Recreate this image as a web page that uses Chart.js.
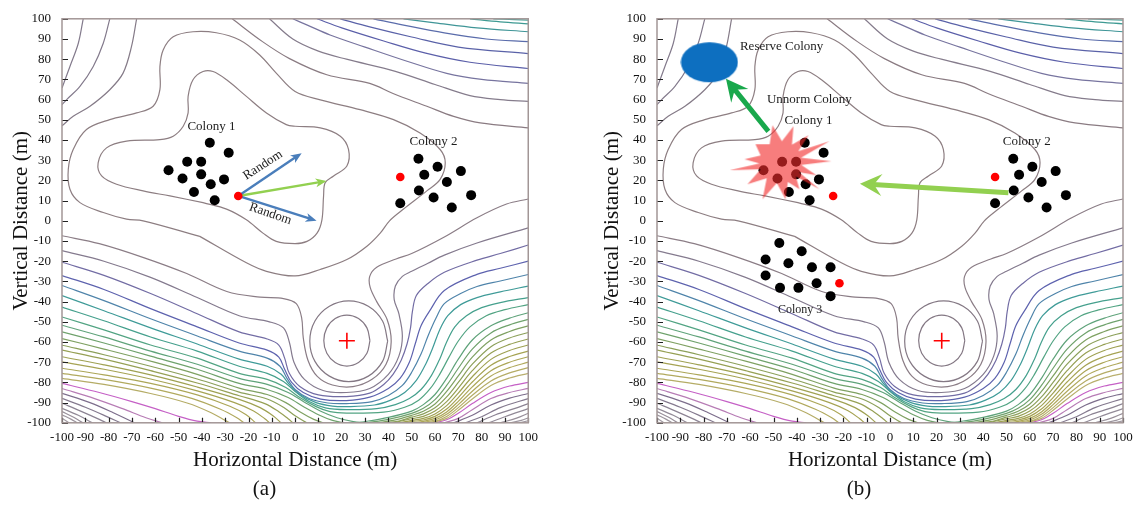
<!DOCTYPE html>
<html>
<head>
<meta charset="utf-8">
<script src="https://cdn.jsdelivr.net/npm/chart.js@4.4.1/dist/chart.umd.min.js"></script>
<style>
  body { margin: 0; background: #fff; width: 1140px; height: 505px; overflow: hidden; position: relative; }
  canvas { position: absolute; top: 0; }
  #chartA { left: 0; }
  #chartB { left: 595px; }
</style>
</head>
<body>
<canvas id="chartA" width="545" height="505"></canvas>
<canvas id="chartB" width="545" height="505"></canvas>
<script>
// ---- values (metres) ----
const tickValues = [-100, -90, -80, -70, -60, -50, -40, -30, -20, -10, 0, 10, 20, 30, 40, 50, 60, 70, 80, 90, 100];

const colony1 = [[-36.6, 38.6], [-28.5, 33.7], [-46.3, 29.2], [-40.3, 29.2], [-54.3, 25], [-40.3, 23], [-48.3, 20.9], [-36.2, 18.1], [-30.5, 20.5], [-43.4, 14.3], [-34.5, 10.2]];
const colony1Best = [[-24.4, 12.3]];
const colony2 = [[52.9, 30.7], [61.1, 26.8], [71.1, 24.6], [55.4, 22.8], [65.1, 19.2], [53.1, 15], [59.4, 11.5], [75.5, 12.7], [45.1, 8.7], [67.2, 6.6]];
const colony2Best = [[45.1, 21.7]];
const colony3 = [[-47.5, -11], [-37.9, -15.1], [-53.4, -19.2], [-43.6, -21], [-33.5, -23], [-25.5, -23], [-53.4, -27.1], [-31.5, -30.9], [-47.2, -33.2], [-39.3, -33.2], [-25.5, -37.3]];
const colony3Best = [[-21.7, -30.9]];
const basinCentre = [[22.2, -59.4]];
const reserveColony = [[-77.5, 78.5]];
const unnormColony = [[-47, 29]];

const randomUp = [[-24.4, 12.3], [2.8, 33.5]];
const randomDown = [[-24.4, 12.3], [9.2, 0]];
const guidedMove = [[-24.4, 12.3], [13.5, 19.7]];
const toReserve = [[-52.2, 44.3], [-70.4, 70.3]];
const colony2Move = [[50.8, 13.9], [-12.9, 18.4]];

// contour lines
const crossRings = [
  [[32.1, -59.3], [30.8, -53], [27.2, -48.4], [22.2, -46.7], [17.2, -48.4], [13.6, -53], [12.3, -59.3], [13.6, -65.6], [17.2, -70.2], [22.2, -71.9], [27.2, -70.2], [30.8, -65.6], [32.1, -59.3]],
  [[39.7, -59.6], [37.5, -49.6], [31.4, -42.3], [23, -39.6], [14.7, -42.3], [8.5, -49.6], [6.3, -59.6], [8.5, -69.6], [14.7, -76.9], [23, -79.6], [31.4, -76.9], [37.5, -69.6], [39.7, -59.6]]
];
const basinLoops = [
  [[-39.5, 9], [-29.4, 5.8], [-20.9, 0.5], [-13.8, -6.1], [-8.1, -10.2], [0, -11.3], [5.1, -10.2], [9.4, -6.1], [11.5, 0.5], [12.2, 12.3], [12.9, 18.9], [16.5, 22.2], [22.2, 27.1], [22.9, 35.3], [19.4, 41.9], [10.8, 46], [0, 46.8], [-3.8, 47.6], [-12.3, 53.4], [-20.9, 61.6], [-29.4, 69.8], [-35.2, 73.9], [-39.5, 73.9], [-43.8, 69.8], [-45.9, 61.6], [-45.9, 53.4], [-48, 46.8], [-52.3, 41.9], [-58, 40.2], [-72.3, 39.4], [-80.9, 36.1], [-84.5, 28.7], [-83, 22.2], [-76.6, 18.1], [-65.2, 14.8], [-53.7, 12.3], [-39.5, 9]],
  [[-40.9, -7.7], [-20.9, -20.8], [-12.3, -25], [0, -27.3], [10.8, -24.1], [22.2, -19.2], [30.8, -12.6], [36.5, -6.1], [40.5, 0], [46.5, 5.8], [56.5, 14.8], [62.2, 20.5], [64.4, 28.7], [62.2, 35.3], [53.6, 43.5], [42.2, 50.1], [27.9, 55], [10.8, 59.9], [0, 64], [-8.1, 73.1], [-15.2, 82.1], [-23.8, 89.5], [-33.8, 93.1], [-43.8, 93.6], [-52.3, 91.1], [-56.6, 84.6], [-58, 76.4], [-58, 64.9], [-60.9, 56.7], [-68, 53.4], [-79.5, 50.1], [-89.5, 45.2], [-95.2, 35.3], [-97.3, 25.5], [-96.6, 15.6], [-92.3, 9], [-82.3, 4.1], [-72.3, 0.8], [-65.2, 0], [-40.9, -7.7]]
];
const topLeftLines = [
  [[-90.9, 100], [-93, 87.9], [-96.6, 76.4], [-100, 65.7]],
  [[-79.5, 100], [-82.3, 87.9], [-86.6, 76.4], [-92.3, 66.5], [-98, 60], [-100, 57.5]],
  [[-68, 100], [-70.2, 86.2], [-73.8, 73.1], [-79.5, 64.9], [-88, 56.7], [-95.2, 51.7], [-100, 47]]
];
const topRightLines = [
  [[-27, 100], [-14, 88.7], [-2.4, 80.3], [13.6, 72.3], [32, 68], [42, 63], [56.5, 56.7], [68, 51.7], [79.4, 48.5], [100, 46]],
  [[-11, 100], [-1, 90], [10, 84], [22, 80], [43, 74], [60, 67.5], [75, 62], [88, 60], [100, 59.1]],
  [[-1, 100], [5, 97], [15, 92], [30, 86], [48, 79], [65, 73], [80, 70], [100, 68]],
  [[9.4, 100], [20, 95.5], [38, 89], [56, 83], [75, 78.5], [100, 75.4]],
  [[19.4, 100], [32, 96], [50, 91], [70, 86], [100, 82.8]],
  [[33.6, 100], [46, 97], [64, 93], [82, 90], [100, 88.7]],
  [[46.5, 100], [60, 98], [78, 95.5], [100, 93.6]],
  [[75, 100], [88, 98.5], [100, 97.5]],
  [[85, 100], [94, 99.6], [100, 99.3]]
];
const valleyLines = [
  [[-100, -7.4], [-84, -11.3], [-65, -18.2], [-46.5, -26.1], [-29.3, -35], [-15, -37.8], [-5, -38.5], [0.5, -41], [2.8, -48], [3.5, -58], [5.5, -69], [9.5, -77], [16, -81.3], [24.8, -82.1], [33, -78.5], [39, -71], [41.2, -60], [39.5, -49], [35, -40], [32.2, -33], [32, -27.5], [35, -23], [43.3, -18.9], [50, -16.2], [64, -8], [78, 1.5], [90.7, 8.3], [100, 10.8]],
  [[-100, -14.8], [-82, -20], [-62, -28], [-42, -38], [-24, -47], [-11, -50], [-5, -53], [-2.5, -60], [-0.5, -70], [4, -78.5], [12, -84], [22, -85], [32, -83], [40, -76], [44.5, -67], [46, -57], [44.5, -46], [42.5, -39], [43, -32.3], [46, -27.5], [50, -25], [57, -21], [64, -17], [78, -11], [100, -3.5]],
  [[-100, -20.5], [-82, -27], [-62, -36], [-42, -46], [-24, -55], [-12, -58.5], [-7, -61.5], [-4.5, -68], [-2.5, -75.5], [2, -82], [10, -86.2], [22, -87], [32, -85.3], [38, -81], [42, -76], [45.5, -69], [48, -61], [49.5, -53], [50.3, -45], [52, -37], [57, -31], [64, -25.5], [78, -19.5], [88, -16.2], [100, -12]],
  [[-100, -27.1], [-82, -34], [-62, -43.5], [-42, -52.5], [-24, -60.5], [-12, -64], [-7, -67.5], [-4.5, -73.5], [-1.5, -80], [3.5, -85], [11, -88.3], [22, -89], [32, -87.3], [40, -83], [45, -78], [49, -70], [51.5, -61], [54, -52], [57.5, -45], [64, -34.5], [78, -26.5], [88, -23.5], [100, -20]],
  [[-100, -32], [-82, -39.5], [-62, -48.5], [-42, -57], [-24, -64.5], [-12, -68], [-6.5, -72], [-3.5, -78], [0, -83.5], [6, -88], [14, -90.2], [22, -90.5], [33, -89.5], [40, -86.5], [46, -81.5], [50, -75], [54, -66], [57, -57], [60.5, -48], [64, -41], [71, -36], [78, -32.5], [88, -29.8], [100, -26.6]],
  [[-100, -37], [-82, -44.5], [-62, -53], [-42, -61], [-24, -68.5], [-12, -72], [-6, -76], [-2.5, -81], [2, -86], [9, -90], [16, -91.7], [22, -92], [34, -91.2], [41, -88.8], [47, -85], [52, -79], [56, -71], [59, -63], [62, -54], [65.5, -47], [71, -41.5], [78, -38], [88, -35.2], [100, -32.3]],
  [[-100, -42.7], [-82, -49.5], [-62, -57.5], [-42, -64.5], [-24, -72], [-12, -75.5], [-5, -79.5], [0, -84.5], [6, -89.5], [13, -92.6], [22, -93.5], [35, -93], [43, -91], [49, -88], [54, -83.5], [58.5, -76.5], [62, -68.5], [65, -60], [68.5, -52.5], [73.5, -47], [80, -43], [88, -40.5], [100, -38]],
  [[-100, -47.6], [-82, -54], [-62, -61.5], [-42, -68], [-24, -75.5], [-12, -78.5], [-4, -82.5], [2, -87.5], [9, -92], [15, -94.5], [22, -95.2], [38, -94.7], [47, -92.3], [53, -88.8], [58, -83], [62, -76], [66, -67.5], [70, -59.5], [75, -52.5], [82, -47], [90, -44], [100, -41.5]]
];
const leftFloorLines = [
  [[-100, -51.7], [-82, -57.5], [-62, -64.5], [-42, -71], [-24, -78], [-12, -81], [-3, -85], [4, -89.8], [11, -94.3], [18, -97.5], [25, -99.4], [30, -100]],
  [[-100, -55], [-82, -60.5], [-62, -67], [-42, -73.5], [-24, -80.5], [-12, -83.5], [-3, -87.5], [4, -92.3], [10, -96], [16, -98.8], [21, -100]],
  [[-100, -58.3], [-82, -63.5], [-62, -69.5], [-42, -76], [-24, -82.8], [-12, -86], [-4, -90], [2, -94.5], [8, -98.3], [12, -100]],
  [[-100, -61.6], [-82, -66.3], [-62, -72], [-42, -78.3], [-24, -84.8], [-12, -88.2], [-5, -92.3], [0, -96.5], [5, -100]],
  [[-100, -64], [-82, -68.5], [-62, -74.2], [-42, -80.3], [-24, -86.6], [-13, -90.5], [-7, -94.5], [-3, -98], [-1, -100]],
  [[-100, -67.3], [-82, -71.3], [-62, -76.3], [-42, -82.3], [-24, -88.4], [-15, -92.5], [-9.5, -96.5], [-6, -100]],
  [[-100, -69.8], [-82, -73.5], [-62, -78.3], [-42, -84.2], [-26, -90], [-18, -94], [-13, -98], [-11, -100]],
  [[-100, -73], [-82, -76.3], [-62, -80.5], [-42, -86.2], [-28, -91.8], [-21, -96], [-17, -100]],
  [[-100, -75.5], [-82, -78.5], [-62, -82.8], [-44, -88], [-32, -93.3], [-25, -97.5], [-22, -100]],
  [[-100, -78], [-82, -81], [-62, -85.5], [-46, -90.3], [-36, -95], [-30, -98.8], [-28, -100]],
  [[-100, -80.5], [-84, -85], [-70, -89.5], [-60, -93], [-50, -96.8], [-42, -99.2], [-36, -100]],
  [[-100, -83], [-86, -88], [-74, -93], [-64, -97.5], [-57, -100]],
  [[-100, -85.4], [-88, -90], [-78, -95], [-69, -100]],
  [[-100, -87.9], [-90, -92.3], [-81, -96.8], [-75, -100]],
  [[-100, -90.3], [-92, -94.2], [-84, -98.3], [-81, -100]],
  [[-100, -92.8], [-93, -96.3], [-87, -100]],
  [[-100, -94.4], [-95, -97.3], [-91, -100]],
  [[-100, -96], [-96, -98.3], [-93.5, -100]],
  [[-100, -97.7], [-97, -100]]
];
const rightFloorLines = [
  [[27, -100], [40, -97.3], [50, -94.2], [55, -91], [60, -86], [65, -78], [70, -68.5], [76, -59], [84, -52], [92, -48.2], [100, -45.5]],
  [[31, -100], [40, -98.3], [50, -95.3], [55, -92.8], [60, -88.5], [65, -81.5], [70, -73], [76, -63.5], [84, -55.5], [92, -51.5], [100, -48.8]],
  [[35, -100], [42, -98.8], [50, -96.3], [55, -94.3], [60, -90.7], [65, -84.5], [70, -76.8], [76, -67.5], [84, -59], [92, -54.8], [100, -52]],
  [[39, -100], [45, -99], [50, -97.2], [55, -95.6], [60, -92.6], [65, -87.2], [70, -80], [76, -71], [84, -62.3], [92, -58], [100, -55.3]],
  [[42, -100], [50, -98], [55, -96.8], [60, -94.2], [65, -89.5], [70, -82.8], [76, -74.2], [84, -65.5], [92, -61.2], [100, -58.5]],
  [[45, -100], [50, -98.8], [55, -97.8], [60, -95.6], [65, -91.5], [70, -85.3], [76, -77.2], [84, -68.6], [92, -64.2], [100, -61.5]],
  [[47.5, -100], [50, -99.4], [55, -98.6], [60, -96.8], [65, -93.2], [70, -87.5], [76, -79.8], [84, -71.5], [92, -67.2], [100, -64.5]],
  [[51, -100], [55, -99.3], [60, -97.8], [65, -94.6], [70, -89.4], [76, -82.2], [84, -74.2], [92, -70], [100, -67.3]],
  [[53.5, -100], [60, -98.6], [65, -95.8], [70, -91], [76, -84.4], [84, -76.8], [92, -72.7], [100, -70]],
  [[56, -100], [60, -99.3], [65, -96.9], [70, -92.5], [76, -86.4], [84, -79.3], [92, -75.3], [100, -72.7]],
  [[58.5, -100], [65, -97.8], [70, -93.8], [76, -88.2], [84, -81.5], [92, -77.8], [100, -75.5]],
  [[60, -100], [65, -98.5], [70, -95.3], [76, -90.5], [84, -85], [92, -81.8], [100, -80]],
  [[64, -100], [70, -97.8], [76, -93.5], [84, -88], [92, -85], [100, -83]],
  [[68, -100], [76, -96.3], [84, -91.2], [92, -87.8], [100, -85.5]],
  [[73, -100], [80, -97], [88, -92.5], [100, -88]],
  [[78, -100], [86, -96], [94, -93], [100, -90.5]],
  [[83, -100], [90, -97], [100, -93]],
  [[88, -100], [95, -97.7], [100, -95.3]],
  [[92, -100], [97, -98.8], [100, -97.5]],
  [[96, -100], [100, -99]]
];

// line colours, one per contour above
const ringColors = ['#847884', '#847884'];
const loopColors = ['#8d7e82', '#8d7e82'];
const topLeftColors = ['#837a8c', '#837a8c', '#857b88'];
const topRightColors = ['#8a7b82', '#857c8c', '#77749f', '#5b5fa9', '#5a62a8', '#5a6cab', '#3f9597', '#3e9a93', '#45a198'];
const valleyColors = ['#8b7d86', '#847a8e', '#726ca4', '#5d62ae', '#4f84aa', '#3f9b98', '#45a08d', '#52a483'];
const floorColors = ['#5fa37a', '#6fa26c', '#7fa162', '#8ca05a', '#96a054', '#9fa152', '#a6a353', '#aca657', '#b1a95d', '#b5ac66'];
const leftFloorColors = floorColors.concat(['#c560c6', '#b77cb5', '#7d6e8c', '#857a8f', '#8c8393', '#928a97', '#988f9a', '#9d959e', '#a39ba3']);
const rightFloorColors = floorColors.concat(['#b9af6e', '#c560c6', '#b77cb5', '#7d6e8c', '#857a8f', '#8c8393', '#928a97', '#988f9a', '#9d959e', '#a39ba3']);

const labelsA = [
  { text: 'Colony 1', x: -35.9, y: 46.8, size: 13, rot: 0 },
  { text: 'Colony 2', x: 59.4, y: 39.4, size: 13, rot: 0 },
  { text: 'Random', x: -13.8, y: 27.6, size: 13, rot: -33 },
  { text: 'Random', x: -10.6, y: 3.4, size: 13, rot: 19 }
];
const labelsB = [
  { text: 'Reserve Colony', x: -46.5, y: 86.2, size: 13, rot: 0 },
  { text: 'Unnorm Colony', x: -34.6, y: 59.9, size: 13, rot: 0 },
  { text: 'Colony 1', x: -35, y: 49.8, size: 13, rot: 0 },
  { text: 'Colony 2', x: 58.7, y: 39.4, size: 13, rot: 0 },
  { text: 'Colony 3', x: -38.6, y: -44.3, size: 12, rot: 0 }
];

// ---- helpers ----
const FONT = "'Liberation Serif', 'Times New Roman', serif";
const toXY = (pts) => pts.map(([x, y]) => ({ x, y }));

const contourDatasets = () => {
  const groups = [
    [crossRings, ringColors], [basinLoops, loopColors], [topLeftLines, topLeftColors],
    [topRightLines, topRightColors], [valleyLines, valleyColors],
    [leftFloorLines, leftFloorColors], [rightFloorLines, rightFloorColors]
  ];
  const out = [];
  groups.forEach(([lines, colors]) => {
    lines.forEach((pts, i) => {
      out.push({ data: toXY(pts), showLine: true, borderColor: colors[i], borderWidth: 1.2, pointRadius: 0, tension: 0.35, order: 100 });
    });
  });
  return out;
};

const dots = (pts, color, r, order = 10) => ({ data: toXY(pts), pointRadius: r, backgroundColor: color, borderWidth: 0, order });
const arrowSet = (pts, arrow) => ({ data: toXY(pts), pointRadius: 0, arrow, order: 50 });

// reserve colony blob and unnorm burst, drawn as point images
const ellipseImg = (() => {
  const c = document.createElement('canvas'); c.width = 58; c.height = 42;
  const g = c.getContext('2d');
  g.fillStyle = '#0d6fc0';
  g.beginPath(); g.ellipse(29, 21, 28.5, 20, 0, 0, Math.PI * 2); g.fill();
  return c;
})();
const burstImg = (() => {
  const tips = [[-8, -37], [13, -36], [28, -27], [49, -21], [51, -1], [36, 13], [39, 27], [19, 27], [5, 37], [-18, 37], [-33, 22], [-51, 8], [-36, -3], [-25, -18]];
  const c = document.createElement('canvas'); c.width = 106; c.height = 80;
  const g = c.getContext('2d');
  g.translate(53, 40);
  g.fillStyle = 'rgba(242, 45, 45, 0.62)';
  g.beginPath();
  tips.forEach(([tx, ty], i) => {
    const [nx, ny] = tips[(i + 1) % tips.length];
    const mx = tx + nx, my = ty + ny, len = Math.hypot(mx, my);
    if (i === 0) g.moveTo(tx, ty); else g.lineTo(tx, ty);
    g.lineTo(mx / len * 21, my / len * 21);
  });
  g.closePath(); g.fill();
  return c;
})();

// ---- plugins ----
const framePlugin = {
  id: 'frame',
  afterDraw(chart) {
    const { ctx, chartArea: a, scales: { x, y } } = chart;
    ctx.save();
    ctx.strokeStyle = '#222'; ctx.lineWidth = 1.2;
    ctx.beginPath();
    x.ticks.forEach((t) => { const px = Math.round(x.getPixelForValue(t.value)) + 0.5; ctx.moveTo(px, a.bottom); ctx.lineTo(px, a.bottom - 5); });
    y.ticks.forEach((t) => { const py = Math.round(y.getPixelForValue(t.value)) + 0.5; ctx.moveTo(a.left, py); ctx.lineTo(a.left + 6, py); });
    ctx.stroke();
    ctx.strokeStyle = '#a29696'; ctx.lineWidth = 1.5;
    ctx.strokeRect(a.left, a.top, a.right - a.left, a.bottom - a.top);
    ctx.restore();
  }
};

const arrowPlugin = {
  id: 'arrows',
  afterDatasetDraw(chart, args) {
    const ds = chart.data.datasets[args.index];
    if (!ds.arrow) return;
    const [p0, p1] = args.meta.data;
    const { color, width, head, wing, notch } = ds.arrow;
    const ang = Math.atan2(p1.y - p0.y, p1.x - p0.x);
    const ux = Math.cos(ang), uy = Math.sin(ang), nx = -uy, ny = ux;
    const bx = p1.x - ux * head, by = p1.y - uy * head;
    const kx = p1.x - ux * (head - notch), ky = p1.y - uy * (head - notch);
    const { ctx } = chart;
    ctx.save();
    ctx.strokeStyle = color; ctx.fillStyle = color; ctx.lineWidth = width; ctx.lineCap = 'butt';
    ctx.beginPath(); ctx.moveTo(p0.x, p0.y); ctx.lineTo(kx + ux, ky + uy); ctx.stroke();
    ctx.beginPath();
    ctx.moveTo(p1.x, p1.y);
    ctx.lineTo(bx + nx * wing, by + ny * wing);
    ctx.lineTo(kx, ky);
    ctx.lineTo(bx - nx * wing, by - ny * wing);
    ctx.closePath(); ctx.fill();
    ctx.restore();
  }
};

const notePlugin = {
  id: 'notes',
  afterDatasetsDraw(chart, args, opts) {
    const { ctx, scales: { x, y } } = chart;
    (opts.items || []).forEach((it) => {
      ctx.save();
      ctx.translate(x.getPixelForValue(it.x), y.getPixelForValue(it.y));
      ctx.rotate(it.rot * Math.PI / 180);
      ctx.font = `${it.size}px ${FONT}`;
      ctx.fillStyle = '#1c1c1c';
      ctx.textAlign = 'center'; ctx.textBaseline = 'middle';
      ctx.fillText(it.text, 0, 0);
      ctx.restore();
    });
  }
};

const makeChart = (id, datasets, panel, notes, rightPad, titlePad) => new Chart(document.getElementById(id), {
  type: 'scatter',
  data: { datasets },
  options: {
    responsive: false, animation: false, events: [],
    layout: { padding: { top: 17, right: rightPad, left: 0, bottom: 0 } },
    scales: {
      x: {
        type: 'linear', min: -100, max: 100,
        afterBuildTicks: (s) => { s.ticks = tickValues.map((v) => ({ value: v })); },
        afterFit: (s) => { s.height = 50; },
        ticks: { autoSkip: false, maxRotation: 0, padding: 7, color: '#111', font: { family: FONT, size: 13 } },
        grid: { display: false, drawTicks: false },
        border: { display: false },
        title: { display: true, text: 'Horizontal Distance (m)', color: '#111', font: { family: FONT, size: 21 }, padding: { top: 0, bottom: 0 } }
      },
      y: {
        type: 'linear', min: -100, max: 100,
        afterBuildTicks: (s) => { s.ticks = tickValues.map((v) => ({ value: v })); },
        afterFit: (s) => { s.width = 62; },
        ticks: { autoSkip: false, padding: 11, color: '#111', font: { family: FONT, size: 13 } },
        grid: { display: false, drawTicks: false },
        border: { display: false },
        title: { display: true, text: 'Vertical Distance (m)', color: '#111', font: { family: FONT, size: 21 }, padding: { top: titlePad, bottom: 0 } }
      }
    },
    plugins: {
      legend: { display: false },
      tooltip: { enabled: false },
      title: { display: true, text: panel, position: 'bottom', color: '#111', font: { family: FONT, size: 21, weight: 'normal' }, padding: { top: 4, bottom: 3 } },
      notes: { items: notes }
    }
  },
  plugins: [framePlugin, arrowPlugin, notePlugin]
});

const crossSet = () => ({ data: toXY(basinCentre), pointStyle: 'cross', pointRadius: 8, borderColor: '#ff0000', borderWidth: 1.6, order: 10 });

makeChart('chartA', [
  ...contourDatasets(),
  arrowSet(randomUp, { color: '#4a7ebb', width: 2.4, head: 11, wing: 4.5, notch: 3 }),
  arrowSet(randomDown, { color: '#4a7ebb', width: 2.4, head: 11, wing: 4.5, notch: 3 }),
  arrowSet(guidedMove, { color: '#92d050', width: 2.4, head: 11, wing: 4.5, notch: 3 }),
  dots(colony1, '#000', 5), dots(colony2, '#000', 5),
  dots(colony1Best, '#ff0000', 4.3, 9), dots(colony2Best, '#ff0000', 4.3, 9),
  crossSet()
], '(a)', labelsA, 16, 9);

makeChart('chartB', [
  ...contourDatasets(),
  arrowSet(colony2Move, { color: '#92d050', width: 5, head: 22, wing: 11, notch: 8 }),
  dots(colony1, '#000', 5), dots(colony2, '#000', 5), dots(colony3, '#000', 5),
  dots(colony1Best, '#ff0000', 4.3, 9), dots(colony2Best, '#ff0000', 4.3, 9), dots(colony3Best, '#ff0000', 4.3, 9),
  crossSet(),
  // image point styles ignore the radius, so keep it tiny to avoid extra layout padding
  { data: toXY(reserveColony), pointStyle: ellipseImg, pointRadius: 1, order: 8 },
  { data: toXY(unnormColony), pointStyle: burstImg, pointRadius: 1, order: 5 },
  arrowSet(toReserve, { color: '#19a84c', width: 5, head: 22, wing: 11, notch: 8 })
], '(b)', labelsB, 17, 4.5);
</script>
</body>
</html>
